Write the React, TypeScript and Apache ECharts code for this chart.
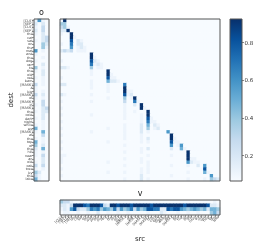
import React, { useEffect, useRef } from "react";
import * as echarts from "echarts";

const tokens = [
  "[CLS]", "[SEP]", "[CLS]", "[SEP]", "the", "cat", "sat", "on", "the", "mat",
  "and", "the", "dog", "ran", "to", "the", "old", "red", "barn", "[MASK]",
  "a", "big", "[MASK]", "of", "[MASK]", "in", "[MASK]", "the", "cold", "dark",
  "night", "while", "we", "[MASK]", "at", "the", "top", "of", "the", "hill",
  "near", "an", "old", "oak", "tree", "by", "the", "lake",
];

// intensity codes 0-9
const LEVELS = [0.065, 0.11, 0.18, 0.28, 0.38, 0.48, 0.58, 0.68, 0.8, 0.92];

const attnRows = [
  "19000000 00000000 00000000 00000000 00000000 00000000",
  "44000000 00000000 00000000 00000000 00000000 00000000",
  "34100000 00000000 00000000 00000000 00000000 00000000",
  "22900000 00000000 00000000 00000000 00000000 00000000",
  "10090000 00000000 00000000 00000000 00000000 00000000",
  "00091000 00000000 00000000 00000000 00000000 00000000",
  "00080210 00000000 00000000 00000000 00000000 00000000",
  "10070220 00000000 00000000 00000000 00000000 00000000",
  "00060121 00000000 00000000 00000000 00000000 00000000",
  "23230111 00000000 00000000 00000000 00000000 00000000",
  "00000000 09000000 00000000 00000000 00000000 00000000",
  "00000000 09100000 00000000 00000000 00000000 00000000",
  "10000000 08210000 00000000 00000000 00000000 00000000",
  "00000000 07121000 00000000 00000000 00000000 00000000",
  "22100000 04011000 00000000 00000000 00000000 00000000",
  "00000000 01000090 00000000 00000000 00000000 00000000",
  "00000000 01000091 00000000 00000000 00000000 00000000",
  "10000000 00000081 10000000 00000000 00000000 00000000",
  "00000000 01000052 21000000 00000000 00000000 00000000",
  "22000000 01000010 00070000 00000000 00000000 00000000",
  "00000000 01000010 00090000 00000000 00000000 00000000",
  "00000000 00000010 00091100 00000000 00000000 00000000",
  "21000000 01000000 00081200 00000000 00000000 00000000",
  "00000000 00000010 00040190 00000000 00000000 00000000",
  "10000000 01000000 00030071 00000000 00000000 00000000",
  "00000000 00000000 00010020 90000000 00000000 00000000",
  "10000000 00000000 00010000 91000000 00000000 00000000",
  "00000000 00000000 00010010 00900000 00000000 00000000",
  "10000000 01000000 00010000 10900000 00000000 00000000",
  "00000000 00000000 00010000 10810000 00000000 00000000",
  "10000000 00000000 00000000 10711000 00000000 00000000",
  "00000000 00000000 00010000 20502100 00000000 00000000",
  "10000000 00000010 00010000 20401200 00000000 00000000",
  "00000000 01000000 00010000 20100000 60000000 00000000",
  "10000000 00000000 00010000 10000000 09000000 00000000",
  "00000000 00000000 00010000 10200000 09100000 00000000",
  "10000000 00000010 00000000 10100000 08110000 00000000",
  "00000000 00000000 00010000 00000000 06016000 00000000",
  "10000000 00000000 00000000 10200000 02005100 00000000",
  "00000000 00000000 00010000 10000000 00000090 00000000",
  "11000000 00000000 00000000 00100000 01000090 00000000",
  "10000000 00000000 00010000 10000000 00000091 10000000",
  "10000000 00000010 00000000 10100000 00000062 11000000",
  "00000000 00000000 00010000 00100000 01000010 02060000",
  "10000000 00000000 00000000 10100000 00000000 00080000",
  "00000000 00000010 00010000 10100000 00000010 00051000",
  "10000000 00000000 00000000 20000000 01000000 00000600",
  "00000000 00000000 00010000 20100000 00000010 00010432",
];

const oColumns = ["0", "1", "2", "3"];
const oRows = [
  "1610", "2020", "1030", "2030", "1020", "0023", "1023", "0042", "0041", "6010",
  "1000", "0010", "1000", "0020", "4010", "1020", "0020", "1010", "0010", "3010",
  "1000", "1010", "3020", "1010", "0030", "1030", "0023", "1022", "0020", "1020",
  "0010", "1010", "5010", "1050", "0030", "1010", "5010", "4020", "2050", "1010",
  "1030", "0020", "1020", "3030", "1010", "4200", "3100", "5100",
];

const vRowNames = ["0", "1", "2", "3"];
const vRows = [
  "43310000 00000000 00000000 00000000 00000000 00000010",
  "22139998 79998329 98999899 99989999 99999899 99998221",
  "12168322 47674654 73645736 45887722 87886545 65452554",
  "01100100 10020010 01001000 00100021 00010010 01000453",
];

const colorbarTicks = [0.2, 0.4, 0.6, 0.8];
const V_MIN = 0.065;
const V_MAX = 0.925;
const BLUES = [
  "#f7fbff", "#deebf7", "#c6dbef", "#9ecae1", "#6baed6",
  "#4292c6", "#2171b5", "#08519c", "#08306b",
];

const FONT = "DejaVu Sans";
const INK = "#222222";

const decode = (s: string) =>
  s.replace(/ /g, "").split("").map((ch) => LEVELS[Number(ch)]);

export default function App() {
  const ref = useRef<HTMLDivElement>(null);

  useEffect(() => {
    if (!ref.current) return;
    const chart = echarts.init(ref.current, undefined, { renderer: "svg" });

    const mainData: number[][] = [];
    attnRows.forEach((row, r) => {
      decode(row).forEach((v, c) => mainData.push([c, r, v]));
    });
    const oData: number[][] = [];
    oRows.forEach((row, r) => {
      decode(row).forEach((v, c) => oData.push([c, r, v]));
    });
    const vData: number[][] = [];
    vRows.forEach((row, r) => {
      decode(row).forEach((v, c) => vData.push([c, r, v]));
    });

    const frame = {
      show: true,
      borderColor: "#555",
      borderWidth: 1,
      backgroundColor: "transparent",
      z: 10,
      containLabel: false,
      outerBoundsMode: "none",
    };

    const tickStyle = { color: "#333", width: 0.5 };

    const label = (text: string, x: number, y: number, size: number, rotation = 0) => ({
      type: "text",
      x,
      y,
      rotation,
      style: {
        text,
        fontSize: size,
        fontFamily: FONT,
        fill: INK,
        align: "center",
        verticalAlign: "middle",
        textAlign: "center",
        textVerticalAlign: "middle",
      },
    });

    chart.setOption({
      animation: false,
      textStyle: { fontFamily: FONT },
      grid: [
        { ...frame, left: 34, top: 19, width: 15, height: 162 },
        { ...frame, left: 60, top: 19, width: 160, height: 162 },
        { ...frame, left: 60, top: 200, width: 160, height: 15 },
        { ...frame, left: 230, top: 19, width: 12, height: 162 },
      ],
      xAxis: [
        { gridIndex: 0, type: "category", data: oColumns, show: false },
        { gridIndex: 1, type: "category", data: tokens, show: false },
        {
          gridIndex: 2,
          type: "category",
          data: tokens,
          axisLine: { show: false },
          axisTick: { show: true, alignWithLabel: true, length: 2.5, lineStyle: tickStyle },
          axisLabel: {
            interval: 0,
            rotate: 45,
            fontSize: 3.4,
            margin: 1.5,
            color: "#444",
            fontFamily: FONT,
          },
          splitLine: { show: false },
        },
        { gridIndex: 3, type: "category", data: ["cb"], show: false },
      ],
      yAxis: [
        {
          gridIndex: 0,
          type: "category",
          data: tokens,
          inverse: true,
          axisLine: { show: false },
          axisTick: { show: true, alignWithLabel: true, length: 2, lineStyle: tickStyle },
          axisLabel: {
            interval: 0,
            fontSize: 3.4,
            margin: 1.5,
            color: "#444",
            fontFamily: FONT,
          },
          splitLine: { show: false },
        },
        { gridIndex: 1, type: "category", data: tokens, inverse: true, show: false },
        { gridIndex: 2, type: "category", data: vRowNames, inverse: true, show: false },
        {
          gridIndex: 3,
          type: "value",
          min: V_MIN,
          max: V_MAX,
          position: "right",
          axisLine: { show: false },
          axisTick: {
            show: true,
            length: 2,
            customValues: colorbarTicks,
            lineStyle: { color: "#333", width: 0.6 },
          },
          axisLabel: {
            customValues: colorbarTicks,
            fontSize: 5.5,
            margin: 2.5,
            color: "#333",
            fontFamily: FONT,
            formatter: (v: number) => v.toFixed(1),
          },
          splitLine: { show: false },
        },
      ],
      visualMap: {
        type: "continuous",
        show: false,
        min: V_MIN,
        max: V_MAX,
        seriesIndex: [0, 1, 2],
        inRange: { color: BLUES },
      },
      series: [
        {
          type: "heatmap",
          xAxisIndex: 1,
          yAxisIndex: 1,
          data: mainData,
          progressive: 0,
          itemStyle: { borderWidth: 0 },
          emphasis: { disabled: true },
        },
        {
          type: "heatmap",
          xAxisIndex: 0,
          yAxisIndex: 0,
          data: oData,
          progressive: 0,
          itemStyle: { borderWidth: 0 },
          emphasis: { disabled: true },
        },
        {
          type: "heatmap",
          xAxisIndex: 2,
          yAxisIndex: 2,
          data: vData,
          progressive: 0,
          itemStyle: { borderWidth: 0 },
          emphasis: { disabled: true },
        },
        {
          type: "bar",
          xAxisIndex: 3,
          yAxisIndex: 3,
          stack: "cb",
          barWidth: "100%",
          silent: true,
          data: [V_MIN],
          itemStyle: { color: "rgba(0,0,0,0)" },
        },
        {
          type: "bar",
          xAxisIndex: 3,
          yAxisIndex: 3,
          stack: "cb",
          barWidth: "100%",
          silent: true,
          data: [V_MAX - V_MIN],
          itemStyle: {
            color: new echarts.graphic.LinearGradient(
              0,
              1,
              0,
              0,
              BLUES.map((c, i) => ({ offset: i / (BLUES.length - 1), color: c }))
            ),
          },
        },
      ],
      graphic: [
        label("o", 41.5, 12.5, 8),
        label("v", 140, 193.5, 8),
        label("src", 140, 238.5, 7),
        label("dest", 11, 100, 7, Math.PI / 2),
      ],
    });

    return () => chart.dispose();
  }, []);

  return (
    <div
      ref={ref}
      style={{
        position: "absolute",
        left: 0,
        top: 0,
        width: 266,
        height: 250,
        transform: "translateZ(0)",
        willChange: "transform",
      }}
    />
  );
}
